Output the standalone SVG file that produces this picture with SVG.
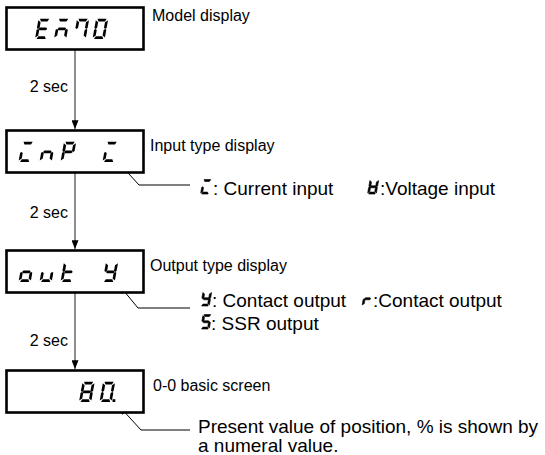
<svg xmlns="http://www.w3.org/2000/svg" width="545" height="455" viewBox="0 0 545 455">
<style>
.box{fill:#fff;stroke:#000;stroke-width:2.6}
.lbl{font-family:"Liberation Sans",Arial,sans-serif;font-size:16px;fill:#000}
.desc{font-family:"Liberation Sans",Arial,sans-serif;font-size:19px;fill:#000}
.flow{stroke:#444;stroke-width:1.2;fill:none;marker-end:url(#ah)}
.lead{stroke:#000;stroke-width:1;fill:none;marker-end:url(#ah2)}
.seg{fill:#000}
.bold{fill:#000;stroke:#000;stroke-width:0.8}
</style>
<defs>
<marker id="ah" markerUnits="userSpaceOnUse" viewBox="0 0 10 8" refX="10" refY="4" markerWidth="9" markerHeight="7" orient="auto"><path d="M0,0 L10,4 L0,8 Z" fill="#000"/></marker>
<marker id="ah2" markerUnits="userSpaceOnUse" viewBox="0 0 10 8" refX="10" refY="4" markerWidth="9" markerHeight="7" orient="auto"><path d="M0,0 L10,4 L0,8 Z" fill="#000"/></marker>
<path id="sa" d="M1.4,0 H10.1 L8.8,2.5 H2.7 Z"/>
<path id="sb" d="M9,3.2 L11.5,1.4 V8.7 L10.3,9.5 L9,8.5 Z"/>
<path id="sc" d="M9,10.5 L10.3,9.5 L11.5,10.3 V17.6 L9,15.8 Z"/>
<path id="sd" d="M2.7,16.5 H8.8 L10.1,19 H1.4 Z"/>
<path id="se" d="M0,10.3 L1.2,9.5 L2.5,10.5 V15.8 L0,17.6 Z"/>
<path id="sf" d="M0,1.4 L2.5,3.2 V8.5 L1.2,9.5 L0,8.7 Z"/>
<path id="sg" d="M1.6,9.5 L2.8,8.2 H8.7 L9.9,9.5 L8.7,10.8 H2.8 Z"/>
<g id="gE"><use href="#sa"/><use href="#sd"/><use href="#se"/><use href="#sf"/><use href="#sg"/></g>
<g id="gNb"><use href="#sa"/><use href="#sc"/><use href="#se"/><use href="#sg"/></g>
<g id="g7"><use href="#sa"/><use href="#sb"/><use href="#sc"/><use href="#sf"/></g>
<g id="g0"><use href="#sa"/><use href="#sb"/><use href="#sc"/><use href="#sd"/><use href="#se"/><use href="#sf"/></g>
<g id="g8"><use href="#sa"/><use href="#sb"/><use href="#sc"/><use href="#sd"/><use href="#se"/><use href="#sf"/><use href="#sg"/></g>
<g id="gI"><use href="#sa"/><use href="#sd"/><use href="#se"/></g>
<g id="gn"><use href="#sc"/><use href="#se"/><use href="#sg"/></g>
<g id="gP"><use href="#sa"/><use href="#sb"/><use href="#se"/><use href="#sf"/><use href="#sg"/></g>
<g id="go"><use href="#sc"/><use href="#sd"/><use href="#se"/><use href="#sg"/></g>
<g id="gu"><use href="#sc"/><use href="#sd"/><use href="#se"/></g>
<g id="gt"><use href="#sd"/><use href="#se"/><use href="#sf"/><use href="#sg"/></g>
<g id="gY"><use href="#sb"/><use href="#sc"/><use href="#sd"/><use href="#sf"/><use href="#sg"/></g>
<g id="gH"><use href="#sb"/><use href="#sc"/><use href="#sd"/><use href="#se"/><use href="#sf"/><use href="#sg"/></g>
<g id="gr"><use href="#se"/><use href="#sg"/></g>
<g id="gS"><use href="#sa"/><use href="#sc"/><use href="#sd"/><use href="#sf"/><use href="#sg"/></g>
</defs>
<rect width="545" height="455" fill="#fff"/>

<g id="connectors">
<path class="flow" d="M75,50 V129"/>
<path class="flow" d="M75,173 V249"/>
<path class="flow" d="M75,293 V369"/>
<path class="lead" d="M190,185 H139 L119,163"/>
<path class="lead" d="M190,308 H138 L119,285"/>
<path class="lead" d="M190,430 H141 L119,406"/>
</g>

<g id="node-model">
<rect class="box" x="6.5" y="7.5" width="137" height="42"/>
<g class="seg">
<use href="#gE" transform="translate(35,39) skewX(-10) scale(1.06) translate(0,-19)"/>
<use href="#gNb" transform="translate(54,39) skewX(-10) scale(1.06) translate(0,-19)"/>
<use href="#g7" transform="translate(73.5,39) skewX(-10) scale(1.06) translate(0,-19)"/>
<use href="#g0" transform="translate(92.5,39) skewX(-10) scale(1.06) translate(0,-19)"/>
</g>
<text class="lbl" x="152" y="21">Model display</text>
</g>

<g id="label-2sec-1"><text class="lbl" x="68" y="92" text-anchor="end">2 sec</text></g>

<g id="node-input">
<rect class="box" x="6.5" y="130.5" width="137" height="42"/>
<g class="seg">
<use href="#gI" transform="translate(18.5,162) skewX(-10) scale(1.06) translate(0,-19)"/>
<use href="#gn" transform="translate(39.5,162) skewX(-10) scale(1.06) translate(0,-19)"/>
<use href="#gP" transform="translate(60.5,162) skewX(-10) scale(1.06) translate(0,-19)"/>
<use href="#gI" transform="translate(102.5,162) skewX(-10) scale(1.06) translate(0,-19)"/>
</g>
<text class="lbl" x="150" y="151">Input type display</text>
</g>

<g id="desc-input">
<use class="bold" href="#gI" transform="translate(200.5,194) skewX(-10) scale(0.76) translate(0,-19)"/>
<text class="desc" x="213" y="195">: Current input</text>
<use class="bold" href="#gH" transform="translate(367.5,194) skewX(-10) scale(0.76) translate(0,-19)"/>
<text class="desc" x="380" y="195">:Voltage input</text>
</g>

<g id="label-2sec-2"><text class="lbl" x="68" y="218" text-anchor="end">2 sec</text></g>

<g id="node-output">
<rect class="box" x="6.5" y="250.5" width="137" height="42"/>
<g class="seg">
<use href="#go" transform="translate(18.5,282) skewX(-10) scale(1.06) translate(0,-19)"/>
<use href="#gu" transform="translate(39.5,282) skewX(-10) scale(1.06) translate(0,-19)"/>
<use href="#gt" transform="translate(60.5,282) skewX(-10) scale(1.06) translate(0,-19)"/>
<use href="#gY" transform="translate(102.5,282) skewX(-10) scale(1.06) translate(0,-19)"/>
</g>
<text class="lbl" x="150" y="271">Output type display</text>
</g>

<g id="desc-output">
<use class="bold" href="#gY" transform="translate(200.5,306) skewX(-10) scale(0.76) translate(0,-19)"/>
<text class="desc" x="212" y="307">: Contact output</text>
<use class="bold" href="#gr" transform="translate(362,306) skewX(-10) scale(0.76) translate(0,-19)"/>
<text class="desc" x="373" y="307">:Contact output</text>
<use class="bold" href="#gS" transform="translate(200.5,329) skewX(-10) scale(0.76) translate(0,-19)"/>
<text class="desc" x="211" y="330">: SSR output</text>
</g>

<g id="label-2sec-3"><text class="lbl" x="68" y="346" text-anchor="end">2 sec</text></g>

<g id="node-basic">
<rect class="box" x="6.5" y="370.5" width="137" height="42"/>
<g class="seg">
<use href="#g8" transform="translate(79,402) skewX(-10) scale(1.06) translate(0,-19)"/>
<use href="#g0" transform="translate(99.5,402) skewX(-10) scale(1.06) translate(0,-19)"/>
<rect x="112.5" y="399.2" width="2.8" height="2.8"/>
</g>
<text class="lbl" x="153" y="391">0-0 basic screen</text>
</g>

<g id="desc-basic">
<text class="desc" x="198" y="433">Present value of position, % is shown by</text>
<text class="desc" x="198" y="452">a numeral value.</text>
</g>
</svg>
